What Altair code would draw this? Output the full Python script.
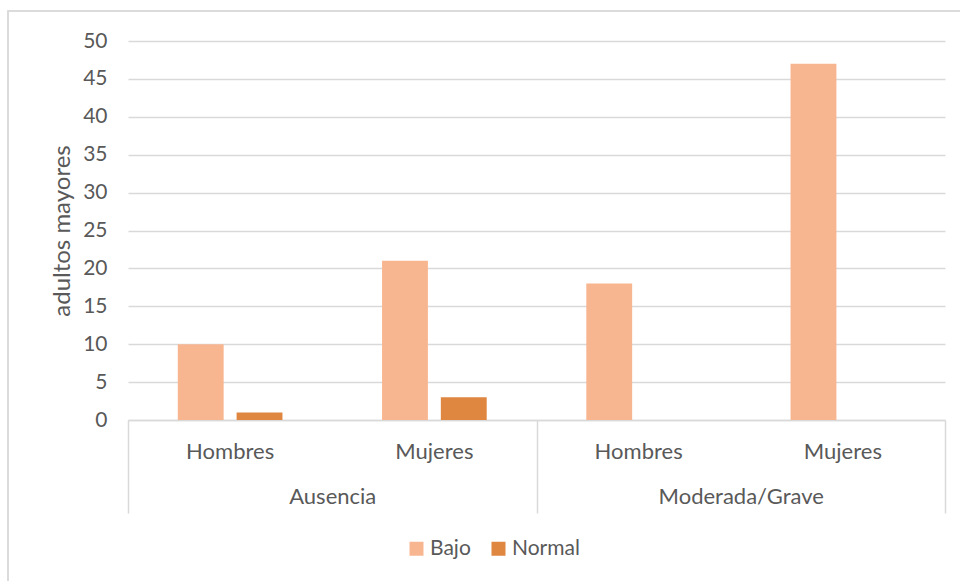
import altair as alt
import pandas as pd

grupos = ["Ausencia", "Ausencia", "Moderada/Grave", "Moderada/Grave"]
sexos = ["Hombres", "Mujeres", "Hombres", "Mujeres"]
series = ["Bajo", "Normal"]
bajo = [10, 21, 18, 47]
normal = [1, 3, 0, 0]
y_ticks = [0, 5, 10, 15, 20, 25, 30, 35, 40, 45, 50]
colores = ["#F8B690", "#DF8640"]
grupo_dom = ["Ausencia", "Moderada/Grave"]

keys = [g + "|" + s for g, s in zip(grupos, sexos)]
rows = []
for k, b, n in zip(keys, bajo, normal):
    rows.append({"key": k, "serie": "Bajo", "valor": b})
    rows.append({"key": k, "serie": "Normal", "valor": n})
df = pd.DataFrame(rows)
gdf = pd.DataFrame({"grupo": grupo_dom})

TXT = "#595959"
GRID = "#D9D9D9"

bars = alt.Chart(df).mark_bar().encode(
    x=alt.X("key:N",
            scale=alt.Scale(domain=keys, paddingInner=0, paddingOuter=0),
            axis=alt.Axis(title=None, labelExpr="split(datum.label,'|')[1]",
                          ticks=False, domain=True, domainColor=GRID, domainWidth=1.5,
                          labelPadding=21, labelAngle=0, grid=False, orient="bottom",
                          labelFontSize=22)),
    xOffset=alt.XOffset("serie:N",
                        scale=alt.Scale(domain=series, paddingInner=0.22, paddingOuter=0.847)),
    y=alt.Y("valor:Q",
            scale=alt.Scale(domain=[0, 50], nice=False),
            axis=alt.Axis(values=y_ticks, title="adultos mayores", grid=True,
                          gridColor=GRID, gridWidth=1.5, ticks=False, domain=False,
                          labelPadding=21, titleX=-66, titleY=189.5,
                          titleFontSize=24,
                          titleBaseline="middle", titleAlign="center", titleAngle=-90)),
    color=alt.Color("serie:N", scale=alt.Scale(domain=series, range=colores),
                    legend=alt.Legend(title=None, orient="none", legendX=278, legendY=497,
                                      direction="horizontal", symbolType="square",
                                      symbolSize=196, symbolStrokeWidth=0,
                                      labelFontSize=21, labelColor=TXT,
                                      labelOffset=3, columnPadding=17)),
)

group_axis = alt.Chart(gdf).mark_point(opacity=0).encode(
    x=alt.X("grupo:N",
            scale=alt.Scale(domain=grupo_dom, paddingInner=0, paddingOuter=0),
            axis=alt.Axis(orient="bottom", title=None, tickBand="extent", tickSize=93,
                          tickColor=GRID, tickWidth=1.5, domain=False, labelPadding=-27,
                          labelAngle=0, grid=False, labelFontSize=22)),
    y=alt.value(0),
)

border = alt.Chart(gdf).mark_rect(fill=None, stroke=GRID, strokeWidth=1.5).encode(
    x=alt.value(-120), x2=alt.value(900), y=alt.value(-30), y2=alt.value(600)
)

chart = alt.layer(border, bars, group_axis).resolve_scale(x="independent").properties(
    width=817, height=379,
    autosize=alt.AutoSizeParams(type="none"),
    padding={"left": 128, "top": 41, "right": 15, "bottom": 161},
).configure(
    font="Lato",
    background="white",
).configure_view(stroke=None).configure_axis(
    labelColor=TXT, labelFontSize=21, labelFont="Lato",
    titleColor=TXT, titleFontWeight="normal", titleFont="Lato",
).configure_legend(labelFont="Lato")

chart.save("out.html", embed_options={"renderer": "svg", "actions": False})
